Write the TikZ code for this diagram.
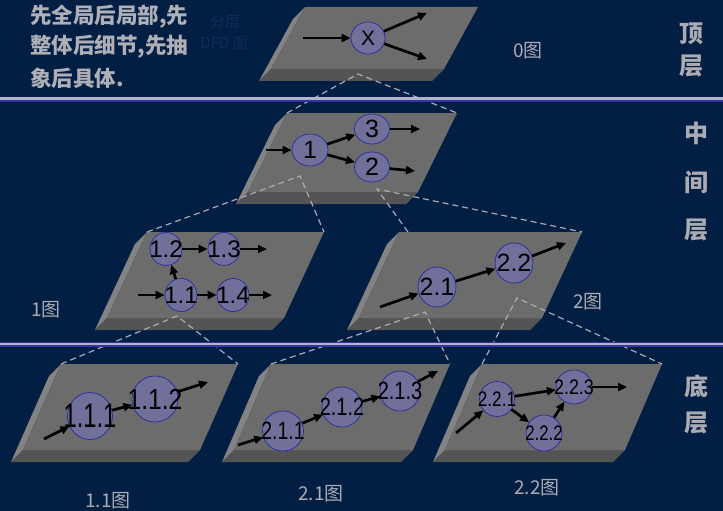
\documentclass[tikz,border=0pt]{standalone}
\usepackage{fontspec}
\usepackage{xcolor}
\usetikzlibrary{shapes.geometric,arrows.meta,positioning,calc}
\setmainfont{Liberation Sans}
\newfontfamily\cjk{Noto Sans CJK SC}

\definecolor{bgnavy}{HTML}{021E43}
\definecolor{slabtopc}{HTML}{6C6C6C}
\definecolor{slabfrontc}{HTML}{545454}
\definecolor{slabsidec}{HTML}{838383}
\definecolor{procfill}{HTML}{70709A}
\definecolor{procline}{HTML}{2A2A9C}
\definecolor{captc}{HTML}{ABABB3}
\definecolor{layerc}{HTML}{B2B2CE}
\definecolor{layerb}{HTML}{3434A0}
\definecolor{faintc}{HTML}{0E2D5A}

\newcommand\hsq[2]{\scalebox{#1}[1]{#2}}

\begin{document}
\begin{tikzpicture}[x=1pt, y=-1pt,
    proc/.style={ellipse, draw=procline, fill=procfill, line width=0.7pt, inner sep=0pt},
    lab/.style={font=\fontsize{#1}{#1}\selectfont, inner sep=0pt, text=black},
    flow/.style={-{Triangle[length=9pt,width=8pt]}, line width=2.7pt, black},
    hier/.style={draw=captc, line width=1.2pt, dash pattern=on 6pt off 4pt},
    capt/.style={font=\cjk\fontsize{19}{19}\selectfont, text=captc, inner sep=0pt},
    side/.style={font=\cjk\bfseries\fontsize{24}{24}\selectfont, text=captc, inner sep=0pt},
    intro/.style={font=\cjk\bfseries\fontsize{21.5}{21.5}\selectfont, text=captc!95!white, inner sep=0pt, anchor=west}]

\useasboundingbox (0,0) rectangle (723,511);
\fill[bgnavy] (0,0) rectangle (723,511);

% slabs: name / top-left x / top-left y / width / height / skew
\foreach \n/\a/\b/\w/\h/\s in {top/305/7/173/62/-34, mid/287/113/170/79/-39,
    one/147/232/177/86/-40, two/399/232/183/86/-40,
    oneone/61/364/177/86/-38, twoone/271/364/179/86/-37, twotwo/482/364/180/86/-37}{
  \fill[slabsidec] (\a,\b) -- ++(-12,12) -- ++(\s,\h) -- ++(12,-12) -- cycle;
  \fill[slabfrontc] (\a+\s,\b+\h) -- ++(\w,0) -- ++(-12,12) -- ++(-\w,0) -- cycle;
  \fill[slabtopc] (\a,\b) -- ++(\w,0) -- ++(\s,\h) -- ++(-\w,0) -- cycle;
  \coordinate (\n-tl) at (\a,\b);
  \coordinate (\n-tr) at (\a+\w,\b);
}

% dashed links between levels
\coordinate (topv) at (358,74);
\coordinate (midl) at (300,176);
\coordinate (midr) at (377,189);
\coordinate (onev) at (177,316);
\coordinate (twol) at (425,312);
\coordinate (twor) at (517,298);
\draw[hier] (mid-tl) -- (topv) -- (mid-tr);
\draw[hier] (one-tl) -- (midl) -- (one-tr);
\draw[hier] ($(two-tl)+(9,0)$) -- (midr) -- (two-tr);
\draw[hier] (oneone-tl) -- (onev) -- (oneone-tr);
\draw[hier] (twoone-tl) -- (twol) -- (twoone-tr);
\draw[hier] (twotwo-tl) -- (twor) -- (twotwo-tr);

% layer separators
\foreach \y in {99,344.5}{
  \draw[layerb, line width=5pt] (0,\y) -- (723,\y);
  \draw[layerc, line width=2.6pt] (0,\y-0.4) -- (723,\y-0.4);
}

% top level
\node[proc, minimum width=34pt, minimum height=32pt, label={[lab=21]center:X}] (x) at (368,38) {};
\coordinate (xin) at (303,38);
\coordinate (xo1) at (427,13);
\coordinate (xo2) at (427,59);
\draw[flow] (xin) -- (x);
\draw[flow] (x) -- (xo1);
\draw[flow] (x) -- (xo2);

% middle level
\node[proc, minimum width=36pt, minimum height=32pt, label={[lab=25]center:1}] (p1) at (310,150) {};
\node[proc, minimum width=35pt, minimum height=30pt, label={[lab=25]center:3}] (p3) at (372,129) {};
\node[proc, minimum width=35pt, minimum height=30pt, label={[lab=25]center:2}] (p2) at (372,167) {};
\coordinate (pin) at (266,150);
\coordinate (po3) at (420,129);
\coordinate (po2) at (415,171);
\draw[flow] (pin) -- (p1);
\draw[flow] (p1) -- (p3);
\draw[flow] (p1) -- (p2);
\draw[flow] (p3) -- (po3);
\draw[flow] (p2) -- (po2);

% 1图
\node[proc, minimum width=32pt, minimum height=33pt, label={[lab=24]center:1.2}] (q12) at (166,249) {};
\node[proc, minimum width=32pt, minimum height=33pt, label={[lab=24]center:1.3}] (q13) at (224,249) {};
\node[proc, minimum width=32pt, minimum height=33pt, label={[lab=24]center:1.1}] (q11) at (181,295) {};
\node[proc, minimum width=32pt, minimum height=33pt, label={[lab=24]center:1.4}] (q14) at (233,295) {};
\coordinate (qin) at (138,295);
\coordinate (qo4) at (272,295);
\coordinate (qo3) at (267,249);
\draw[flow] (qin) -- (q11);
\draw[flow] (q11) -- (q14);
\draw[flow] (q14) -- (qo4);
\draw[flow] (q12) -- (q13);
\draw[flow] (q13) -- (qo3);
\draw[flow] (q11) -- (q12);

% 2图
\node[proc, minimum width=38pt, minimum height=40pt, label={[lab=25]center:2.1}] (r21) at (437,287) {};
\node[proc, minimum width=38pt, minimum height=40pt, label={[lab=25]center:2.2}] (r22) at (514,263) {};
\coordinate (rin) at (380,307);
\coordinate (rout) at (566,243);
\draw[flow] (rin) -- (r21);
\draw[flow] (r21) -- (r22);
\draw[flow] (r22) -- (rout);

% 1.1图
\node[proc, minimum width=45pt, minimum height=47pt, label={[lab=34]center:\hsq{0.7}{1.1.1}}] (u111) at (90,416) {};
\node[proc, minimum width=46pt, minimum height=46pt, label={[lab=29]center:\hsq{0.85}{1.1.2}}] (u112) at (155,399) {};
\coordinate (uin) at (44,439);
\coordinate (uout) at (208,382);
\draw[flow] (uin) -- (u111);
\draw[flow] (u111) -- (u112);
\draw[flow] (u112) -- (uout);

% 2.1图
\node[proc, minimum width=41pt, minimum height=40pt, label={[lab=25]center:\hsq{0.78}{2.1.1}}] (v211) at (283,431) {};
\node[proc, minimum width=40pt, minimum height=40pt, label={[lab=25]center:\hsq{0.8}{2.1.2}}] (v212) at (342,407) {};
\node[proc, minimum width=40pt, minimum height=40pt, label={[lab=25]center:\hsq{0.8}{2.1.3}}] (v213) at (400,391) {};
\coordinate (vin) at (238,445);
\coordinate (vout) at (438,371);
\draw[flow] (vin) -- (v211);
\draw[flow] (v211) -- (v212);
\draw[flow] (v212) -- (v213);
\draw[flow] (v213) -- (vout);

% 2.2图
\node[proc, minimum width=35pt, minimum height=35pt, label={[lab=21]center:\hsq{0.82}{2.2.1}}] (w221) at (497,399) {};
\node[proc, minimum width=36pt, minimum height=36pt, label={[lab=21]center:\hsq{0.8}{2.2.2}}] (w222) at (544,433) {};
\node[proc, minimum width=36pt, minimum height=34pt, label={[lab=21]center:\hsq{0.85}{2.2.3}}] (w223) at (574,387) {};
\coordinate (win) at (456,433);
\coordinate (wout) at (627,387);
\draw[flow] (win) -- (w221);
\draw[flow] (w221) -- (w223);
\draw[flow] (w221) -- (w222);
\draw[flow] (w222) -- (w223);
\draw[flow] (w223) -- (wout);

% captions
\node[capt] (c0) at (528,51) {0图};
\node[capt] (c1) at (46,310) {1图};
\node[capt] (c2) at (588,302) {2图};
\node[capt] (c11) at (108,501) {1.1图};
\node[capt] (c21) at (321,494) {2.1图};
\node[capt] (c22) at (537,488) {2.2图};

% layer names
\node[side] (ding) at (691,34) {顶};
\node[side] (dingc) at (691,66) {层};
\node[side] (zhong) at (696,133) {中};
\node[side] (jian) at (696,182) {间};
\node[side] (zhongc) at (696,230) {层};
\node[side] (di) at (696,386) {底};
\node[side] (dic) at (696,423) {层};

% note on the left
\node[intro] (introa) at (30,17) {先全局后局部,先};
\node[intro] (introb) at (30,47) {整体后细节,先抽};
\node[intro] (introc) at (30,78) {象后具体.};
\node[font=\cjk\fontsize{15}{15}\selectfont, text=faintc, inner sep=0pt] (fa) at (225,22) {分层};
\node[font=\cjk\fontsize{15}{15}\selectfont, text=faintc, inner sep=0pt] (fb) at (224,43) {DFD 图};
\end{tikzpicture}
\end{document}
